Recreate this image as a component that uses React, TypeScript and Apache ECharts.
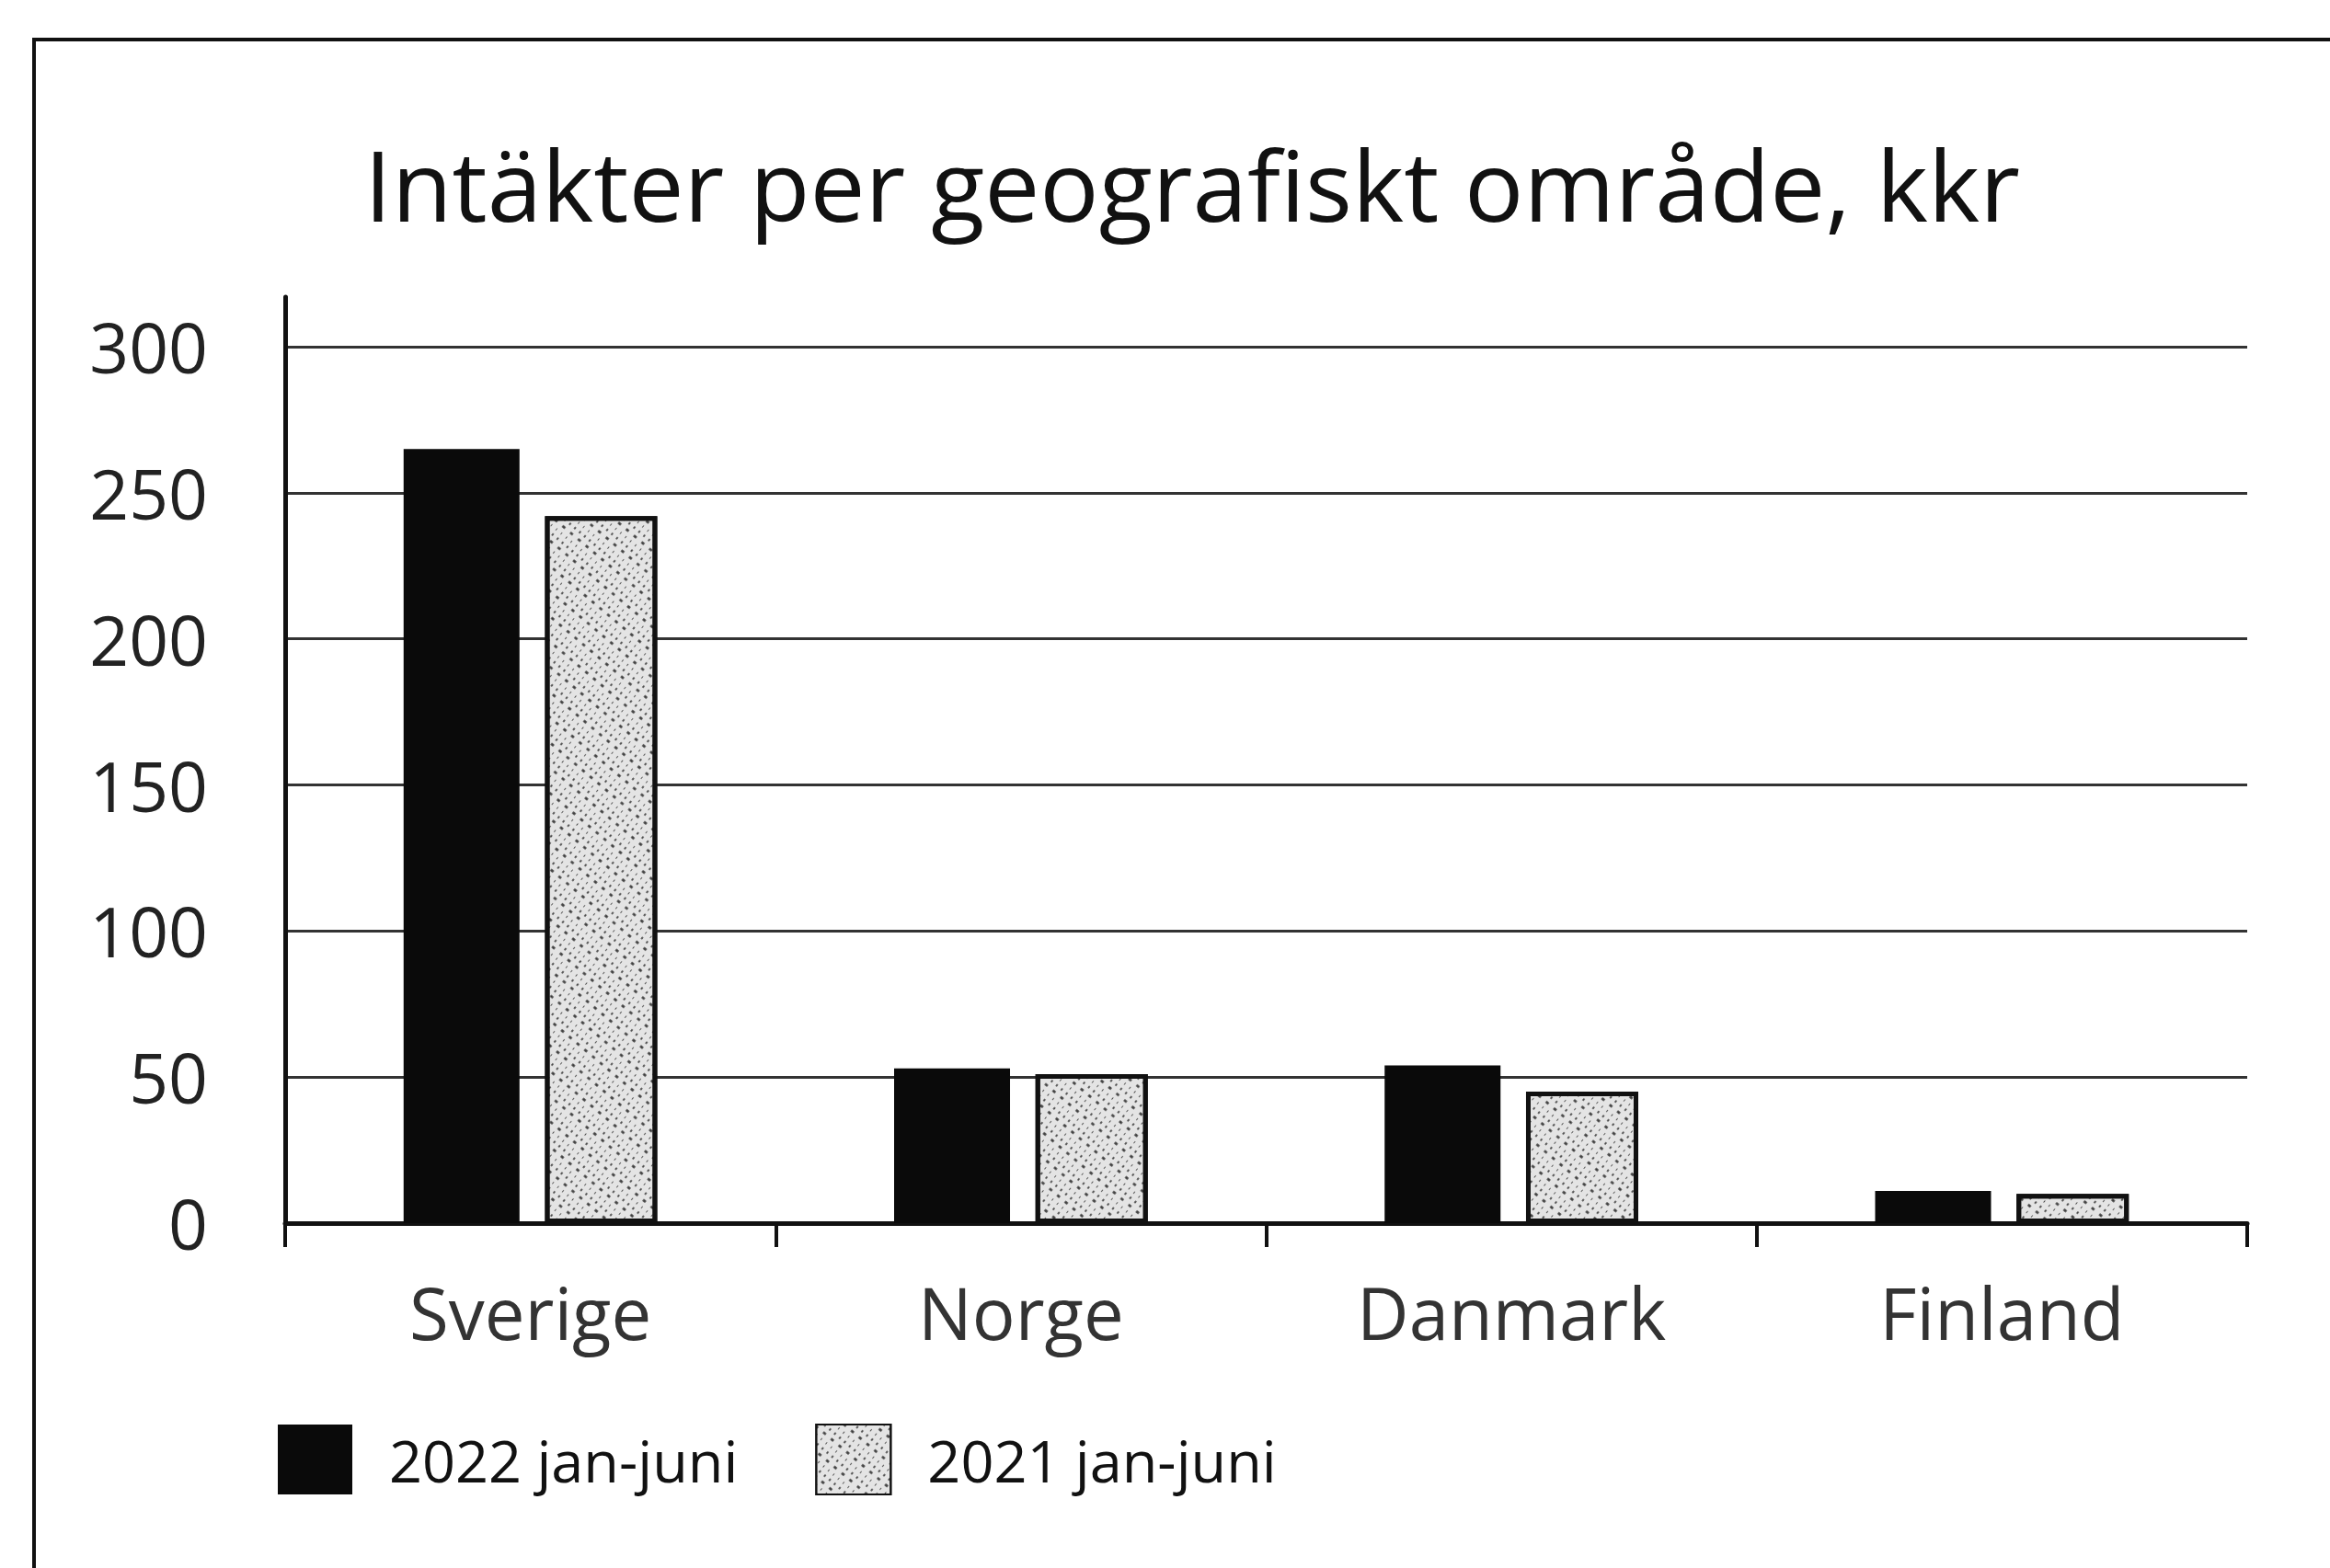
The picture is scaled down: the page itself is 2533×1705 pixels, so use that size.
import React, { useEffect, useRef } from 'react';
import * as echarts from 'echarts';

const categories = ['Sverige', 'Norge', 'Danmark', 'Finland'];
const values2022 = [265, 53, 54, 11];
const values2021 = [242, 51, 45, 10];
const seriesNames = ['2022 jan-juni', '2021 jan-juni'];
const yInterval = 50;
const yMax = 317;
const titleText = 'Intäkter per geografiskt område, kkr';

export default function App() {
  const ref = useRef<HTMLDivElement>(null);
  useEffect(() => {
    document.body.style.margin = '0';
    const chart = echarts.init(ref.current!, null, { renderer: 'svg' });
    const font = "'Open Sans', 'Noto Sans', sans-serif";
    chart.setOption({
      animation: false,
      backgroundColor: '#ffffff',
      aria: { enabled: true, decal: { show: true } },
      title: {
        text: titleText,
        left: 396,
        top: 134,
        padding: 0,
        textStyle: { fontFamily: font, fontSize: 107, fontWeight: 'normal', color: '#111', lineHeight: 130 },
      },
      legend: {
        data: seriesNames,
        left: 302,
        top: 1548,
        padding: 0,
        itemWidth: 81,
        itemHeight: 76,
        itemGap: 84,
        icon: 'rect',
        selectedMode: false,
        textStyle: { fontFamily: font, fontSize: 63, color: '#111', padding: [0, 0, 0, 35] },
      },
      grid: { left: 310, right: 90, top: 323, bottom: 375 },
      xAxis: {
        type: 'category',
        data: categories,
        boundaryGap: true,
        axisLine: { show: true, lineStyle: { color: '#111', width: 5 } },
        axisTick: { show: true, alignWithLabel: false, length: 26, lineStyle: { color: '#111', width: 4 } },
        axisLabel: { fontFamily: font, fontSize: 78, color: '#333', margin: 58 },
        splitLine: { show: false },
      },
      yAxis: {
        type: 'value',
        min: 0,
        max: yMax,
        interval: yInterval,
        axisLine: { show: true, lineStyle: { color: '#111', width: 5 } },
        axisTick: { show: false },
        axisLabel: {
          fontFamily: font,
          fontSize: 75,
          color: '#222',
          margin: 84,
          formatter: (v: number) => (v % yInterval === 0 ? String(v) : ''),
        },
        splitLine: {
          show: true,
          showMaxLine: false,
          lineStyle: { color: ['#333', '#333', '#333', '#333', '#333', '#333', '#333', 'transparent'], width: 3 },
        },
      },
      graphic: [
        {
          type: 'polyline',
          silent: true,
          shape: { points: [[37, 1705], [37, 43], [2533, 43]] },
          style: { stroke: '#111', lineWidth: 4, fill: 'none' },
        },
      ],
      series: [
        {
          name: seriesNames[0],
          type: 'bar',
          data: values2022,
          barWidth: 126,
          barGap: '22%',
          itemStyle: { color: '#0a0a0a', decal: { symbol: 'none' } },
        },
        {
          name: seriesNames[1],
          type: 'bar',
          data: values2021,
          barWidth: 122,
          barGap: '22%',
          itemStyle: {
            color: '#e4e4e4',
            borderColor: '#111',
            borderWidth: 5,
            decal: {
              symbol: 'rect',
              symbolSize: 0.9,
              color: 'rgba(0,0,0,0.75)',
              dashArrayX: [[2, 5], [4, 7], [1, 6]],
              dashArrayY: [3, 4],
              rotation: 0.7,
            },
          },
        },
      ],
    });
    return () => chart.dispose();
  }, []);
  return <div ref={ref} style={{ position: 'absolute', left: 0, top: 0, width: 2533, height: 1705 }} />;
}
